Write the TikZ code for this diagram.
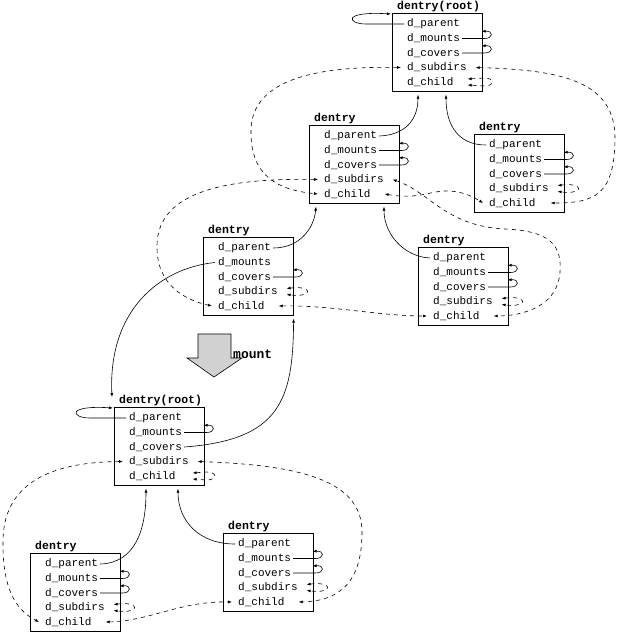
\documentclass[tikz,border=0pt]{standalone}
\usepackage{fontspec}
\setmonofont{Liberation Mono}
\usetikzlibrary{arrows.meta,calc}
\tikzset{
  dbox/.style={draw, line width=0.6pt, minimum width=90pt, minimum height=78pt, inner sep=0pt, anchor=north west},
  ttl/.style={anchor=south west, inner sep=0pt, font=\ttfamily\bfseries\fontsize{11.5}{12}\selectfont},
  rowtxt/.style={anchor=west, inner sep=0pt, font=\ttfamily\fontsize{11}{12}\selectfont},
  con/.style={line width=0.6pt, -{Latex[length=4pt,width=3pt]}},
  dcon/.style={line width=0.6pt, dash pattern=on 4pt off 4pt, {Latex[length=4pt,width=3pt]}-{Latex[length=4pt,width=3pt]}},
}
\newcommand\dentrybox[4]{%
  \node[dbox] (#1) at (#2,#3) {};
  \node[ttl] (#1-t) at (#2+5,#3-1) {#4};
  \node[rowtxt] (#1-parent) at (#2+15,#3+11) {d\_parent};
  \node[rowtxt] (#1-mounts) at (#2+15,#3+25.5) {d\_mounts};
  \node[rowtxt] (#1-covers) at (#2+15,#3+40) {d\_covers};
  \node[rowtxt] (#1-subdirs) at (#2+15,#3+54.5) {d\_subdirs};
  \node[rowtxt] (#1-child) at (#2+15,#3+69) {d\_child};
}
\newcommand\mloop[2]{%
  \coordinate (R) at (#1-#2.west -| #1.east);
  \draw[con] ($(#1-#2.east)+(2,0)$) -- ($(R)+(2,0)$) .. controls ($(R)+(11,0)$) and ($(R)+(11,-8)$) .. ($(R)+(-1,-7)$);
}
\newcommand\dloop[4]{%
  \coordinate (R) at (#1-#2.west -| #1.east);
  \draw[dcon] ($(R)+(-#3,-3)$) -- ($(R)+(2,-4)$) .. controls ($(R)+(#4,-4)$) and ($(R)+(#4,4)$) .. ($(R)+(2,4)$) -- ($(R)+(-#3,3)$);
}
\begin{document}
\begin{tikzpicture}[x=1pt,y=-1pt]
\useasboundingbox (0,0) rectangle (626,632);

\dentrybox{A}{392}{13}{dentry(root)}
\dentrybox{B}{309}{125}{dentry}
\dentrybox{C}{474}{134}{dentry}
\dentrybox{D}{203}{237}{dentry}
\dentrybox{E}{418}{247}{dentry}
\dentrybox{F}{114}{407}{dentry(root)}
\dentrybox{G}{30}{553}{dentry}
\dentrybox{H}{223}{533}{dentry}

% small solid loops
\mloop{A}{mounts}\mloop{A}{covers}
\mloop{B}{mounts}\mloop{B}{covers}
\mloop{C}{mounts}\mloop{C}{covers}
\mloop{D}{covers}
\mloop{E}{mounts}\mloop{E}{covers}
\mloop{F}{mounts}
\mloop{G}{mounts}\mloop{G}{covers}
\mloop{H}{mounts}\mloop{H}{covers}

% empty list heads
\dloop{A}{child}{15}{12}
\dloop{C}{subdirs}{7}{18}
\dloop{D}{subdirs}{7}{18}
\dloop{E}{subdirs}{7}{18}
\dloop{F}{child}{12}{13}
\dloop{G}{subdirs}{7}{18}
\dloop{H}{subdirs}{7}{18}

% d_parent links
\draw[con] ($(A-parent.west)+(-3,0)$) -- (366,24) .. controls (347,24) and (342,11) .. ($(A.north west)+(-1,1)$);
\draw[con] ($(F-parent.west)+(-3,0)$) -- (90,418) .. controls (71,418) and (66,405) .. ($(F.north west)+(-1,1)$);
\draw[con] ($(B-parent.east)+(2,0)$) .. controls (405,135) and (418,120) .. ($(A.south west)+(26,3)$);
\draw[con] ($(C-parent.west)+(-3,0)$) .. controls (458,145) and (446,125) .. ($(A.south west)+(54,3)$);
\draw[con] ($(D-parent.east)+(2,0)$) .. controls (300,248) and (314,228) .. ($(B.south west)+(7,3)$);
\draw[con] ($(E-parent.west)+(-3,0)$) .. controls (405,257) and (384,235) .. ($(B.south west)+(75,3)$);
\draw[con] ($(G-parent.east)+(2,0)$) .. controls (135,563) and (146,530) .. ($(F.south west)+(32,3)$);
\draw[con] ($(H-parent.west)+(-3,0)$) .. controls (198,544) and (178,520) .. ($(F.south west)+(64,3)$);

% mount links
\draw[con] ($(D-mounts.west)+(-3,0)$) .. controls (160,268) and (108,310) .. ($(F.north west)+(-2,-10)$);
\draw[con] ($(F-covers.east)+(2,0)$) .. controls (280,440) and (293,400) .. ($(D.south east)+(0,3)$);

% sibling lists
\draw[dcon] ($(A-subdirs.west)+(-6,0)$) .. controls (320,66) and (252,78) .. (251,130) .. controls (250,178) and (280,190) .. ($(B-child.west)+(-6,0)$);
\draw[dcon] ($(A-subdirs.west -| A.east)+(-7,0)$) .. controls (560,70) and (616,80) .. (615,140) .. controls (614,195) and (595,203) .. ($(C-child.west -| C.east)+(-14,0)$);
\draw[dcon] ($(B-subdirs.west)+(-6,0)$) .. controls (230,178) and (158,190) .. (157,245) .. controls (156,285) and (185,300) .. ($(D-child.west)+(-6,0)$);
\draw[dcon] ($(B-child.west -| B.east)+(-15,0)$) .. controls (420,200) and (430,190) .. (450,191) .. controls (465,192) and (475,198) .. ($(C-child.west)+(-6,0)$);
\draw[dcon] ($(B-subdirs.west -| B.east)+(-7,0)$) .. controls (430,192) and (445,226) .. (505,229) .. controls (550,231) and (562,245) .. (560,272) .. controls (558,305) and (525,316) .. ($(E-child.west -| E.east)+(-15,0)$);
\draw[dcon] ($(D-child.west -| D.east)+(-15,0)$) .. controls (330,305) and (380,316) .. ($(E-child.west)+(-6,0)$);
\draw[dcon] ($(F-subdirs.west)+(-6,0)$) .. controls (60,462) and (4,478) .. (3,540) .. controls (2,595) and (20,612) .. ($(G-child.west)+(-6,0)$);
\draw[dcon] ($(F-subdirs.west -| F.east)+(-7,0)$) .. controls (300,465) and (362,480) .. (362,532) .. controls (362,582) and (340,601) .. ($(H-child.west -| H.east)+(-15,0)$);
\draw[dcon] ($(G-child.west -| G.east)+(-15,0)$) .. controls (150,621) and (180,601) .. ($(H-child.west)+(-6,0)$);

% mount block arrow
\draw[line width=0.6pt, fill=black!18] (198,334) -- (231,334) -- (231,358) -- (242,358) -- (214,377) -- (187,358) -- (198,358) -- cycle;
\node[anchor=west, inner sep=0pt, font=\ttfamily\bfseries\fontsize{13}{14}\selectfont] (mnt) at (233,354) {mount};
\end{tikzpicture}
\end{document}
